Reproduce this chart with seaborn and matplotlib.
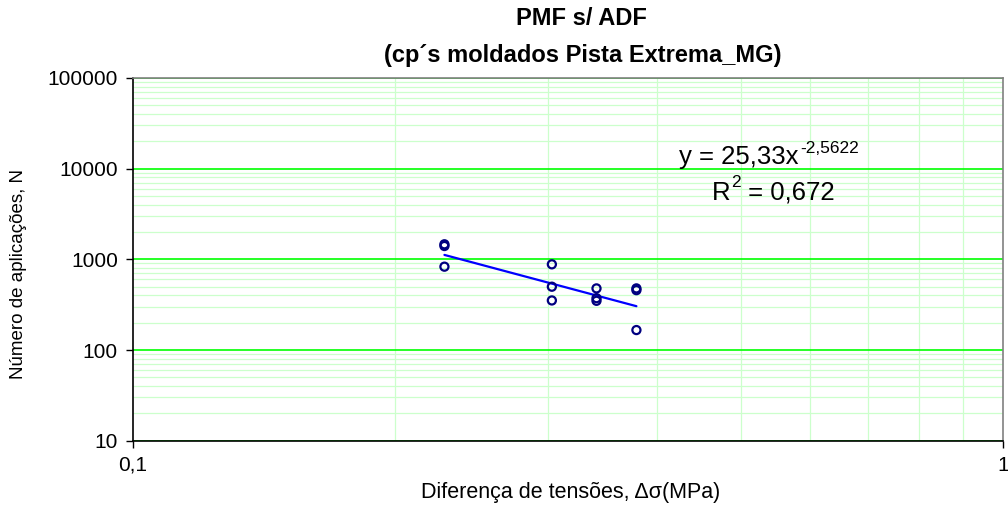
import numpy as np
import pandas as pd
import matplotlib
matplotlib.use("Agg")
import matplotlib.pyplot as plt
import matplotlib.ticker as mticker
import seaborn as sns

# Stress difference (MPa) and number of load applications to failure
delta_sigma = [0.228, 0.228, 0.228,
               0.303, 0.303, 0.303,
               0.341, 0.341, 0.341,
               0.379, 0.379, 0.379]
n_cycles = [1465, 1403, 830,
            881, 499, 352,
            478, 373, 349,
            478, 457, 166]

# Power-law fit N = a * (delta_sigma)^b
fit_a = 25.33
fit_b = -2.5622
fit_r2 = 0.672

y_ticks = [10, 100, 1000, 10000, 100000]
x_ticks = [0.1, 1]
x_tick_labels = ["0,1", "1"]

df = pd.DataFrame({"ds": delta_sigma, "N": n_cycles})
xf = np.linspace(min(delta_sigma), max(delta_sigma), 60)
fit_df = pd.DataFrame({"ds": xf, "N": fit_a * xf ** fit_b})

sns.set_theme(style="white")
plt.rcParams["font.family"] = ["Liberation Sans", "DejaVu Sans"]
plt.rcParams["text.color"] = "black"
plt.rcParams["xtick.color"] = "black"
plt.rcParams["ytick.color"] = "black"

fig = plt.figure(figsize=(10.08, 5.08), dpi=100)
ax = fig.add_axes([0.132, 0.1325, 0.863, 0.714])

ax.set_xscale("log")
ax.set_yscale("log")
ax.set_xlim(0.1, 1)
ax.set_ylim(10, 100000)

# grid
ax.yaxis.set_minor_locator(mticker.LogLocator(base=10, subs=np.arange(2, 10)))
ax.xaxis.set_minor_locator(mticker.LogLocator(base=10, subs=np.arange(2, 10)))
ax.xaxis.set_minor_formatter(mticker.NullFormatter())
ax.yaxis.set_minor_formatter(mticker.NullFormatter())
ax.grid(True, which="major", axis="y", color="#00FF00", linewidth=1.2)
ax.grid(True, which="minor", axis="both", color="#CCFFCC", linewidth=0.9)
ax.set_axisbelow(True)

sns.lineplot(data=fit_df, x="ds", y="N", ax=ax, color="#0000FF", linewidth=1.6)
sns.scatterplot(data=df, x="ds", y="N", ax=ax, marker="o", s=34,
                facecolor="none", edgecolor="#000080", linewidth=1.6, zorder=5)

ax.set_yticks(y_ticks)
ax.set_yticklabels([str(v) for v in y_ticks])
ax.set_xticks(x_ticks)
ax.set_xticklabels(x_tick_labels)
ax.tick_params(axis="both", which="major", length=5, width=1, color="black",
               labelsize=15, direction="out", pad=6, left=True, bottom=True,
               labelcolor="black")
ax.tick_params(axis="both", which="minor", length=0)

for side in ("left", "bottom"):
    ax.spines[side].set_color("black")
    ax.spines[side].set_linewidth(1.2)
for side in ("top", "right"):
    ax.spines[side].set_color("#808080")
    ax.spines[side].set_linewidth(1.2)

ax.set_xlabel("")
ax.set_ylabel("")

fig.text(0.577, 0.963, "PMF s/ ADF", ha="center", va="center",
         fontsize=17, fontweight="bold")
fig.text(0.578, 0.89, "(cp\u00b4s moldados Pista Extrema_MG)", ha="center",
         va="center", fontsize=17, fontweight="bold")
fig.text(0.566, 0.03, "Diferen\u00e7a de tens\u00f5es, \u0394\u03c3(MPa)",
         ha="center", va="center", fontsize=15.5)
fig.text(0.018, 0.46, "N\u00famero de aplica\u00e7\u00f5es, N", ha="center",
         va="center", rotation=90, fontsize=13.5)

# trend-line equation with a raised exponent
b_txt = f"{fit_b:.4f}".replace(".", ",")
a_txt = f"{fit_a:.2f}".replace(".", ",")
r_txt = f"{fit_r2:.3f}".replace(".", ",")
eq = fig.text(0.674, 0.69, f"y = {a_txt}x", ha="left", va="center",
              fontsize=18.5)
r2 = fig.text(0.706, 0.621, "R", ha="left", va="center", fontsize=18.5)
fig.canvas.draw()
renderer = fig.canvas.get_renderer()
bb = eq.get_window_extent(renderer)
fig.text(bb.x1 / fig.bbox.width + 0.001, 0.708, b_txt, ha="left",
         va="center", fontsize=12.5)
bb2 = r2.get_window_extent(renderer)
sq = fig.text(bb2.x1 / fig.bbox.width + 0.001, 0.641, "2", ha="left",
              va="center", fontsize=12.5)
bb3 = sq.get_window_extent(renderer)
fig.text(bb3.x1 / fig.bbox.width, 0.621, f" = {r_txt}", ha="left",
         va="center", fontsize=18.5)

fig.savefig("out.png", dpi=100)
